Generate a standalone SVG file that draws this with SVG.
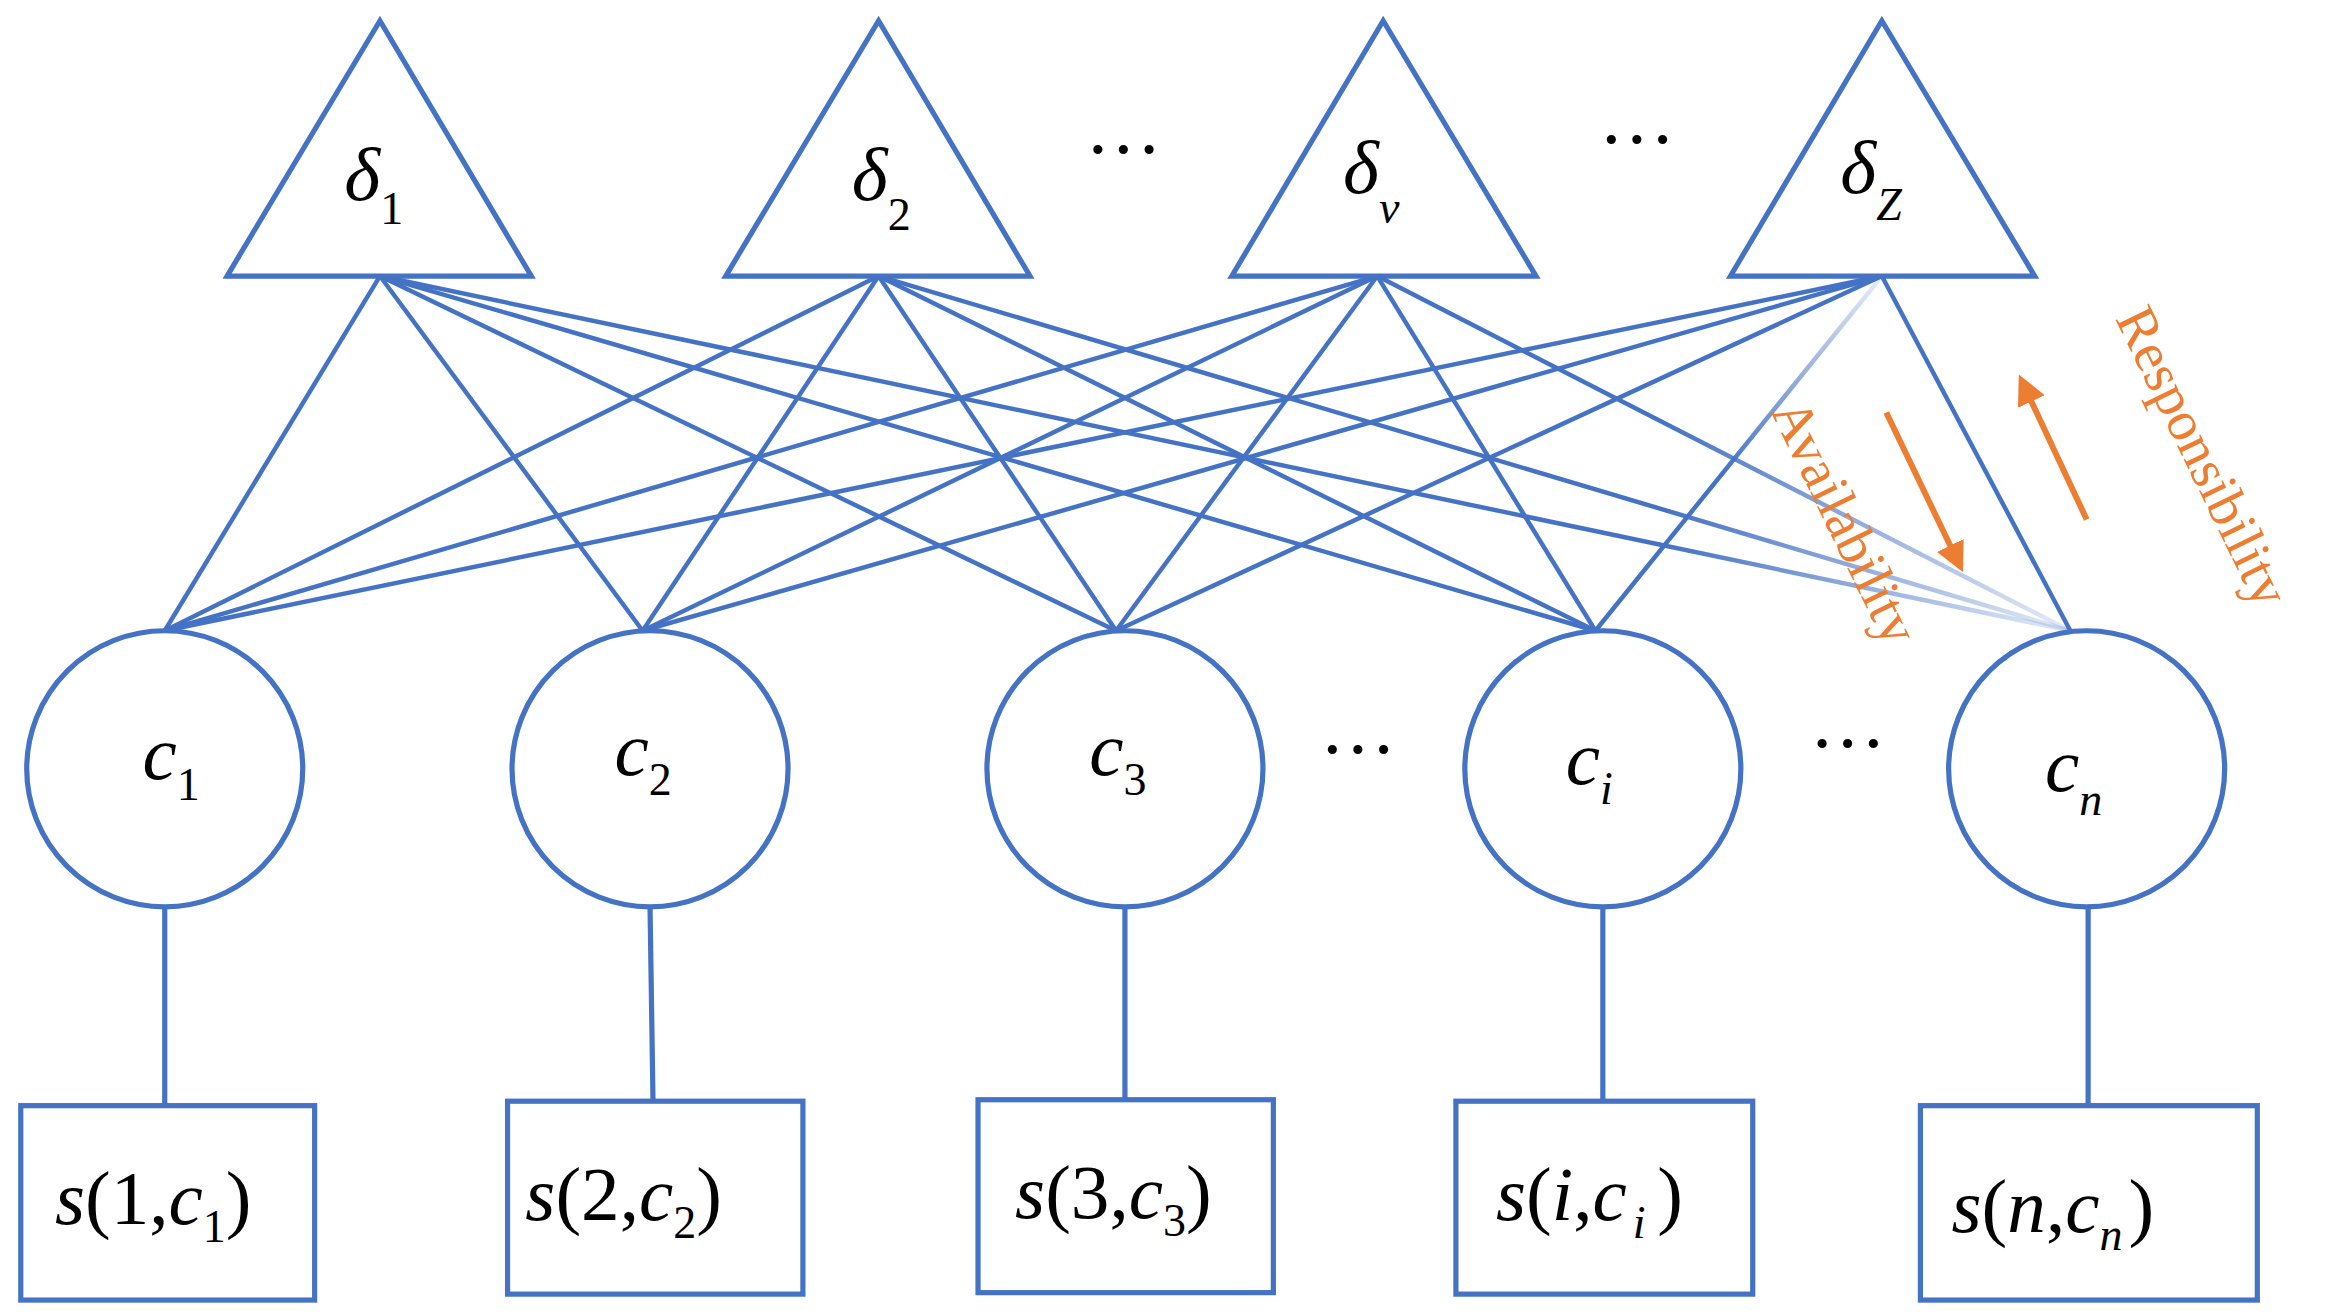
<svg xmlns="http://www.w3.org/2000/svg" width="2327" height="1315" viewBox="0 0 2327 1315">
<style>
.s{fill:none;stroke:#4472C4;stroke-width:3.5}
.l{stroke:#4472C4;stroke-width:3}
.m{font-family:"Liberation Serif","DejaVu Serif",serif;font-style:italic;fill:#000;font-size:52px}
.u{font-style:normal}
.b{font-size:31px}
.o{font-family:"Liberation Serif","DejaVu Serif",serif;fill:#ED7D31;font-size:38px}
.a{stroke:#ED7D31;stroke-width:4;marker-end:url(#ah)}
</style>
<defs>
<marker id="ah" viewBox="0 0 10 10" refX="8" refY="5" markerWidth="5" markerHeight="5" orient="auto"><path d="M0,0 L10,5 L0,10 Z" fill="#ED7D31"/></marker>
<linearGradient id="f1" gradientUnits="userSpaceOnUse" x1="1120" y1="0" x2="1390" y2="0"><stop offset="0" stop-color="#4472C4"/><stop offset="1" stop-color="#4472C4" stop-opacity="0.15"/></linearGradient>
<linearGradient id="f2" gradientUnits="userSpaceOnUse" x1="0" y1="190" x2="0" y2="320"><stop offset="0" stop-color="#4472C4" stop-opacity="0.15"/><stop offset="1" stop-color="#4472C4"/></linearGradient>
</defs>
<rect width="2327" height="1315" fill="#fff"/>
<g transform="scale(1.4841)">
<g id="connectors">
<line class="l" x1="256" y1="186" x2="111" y2="425"/><line class="l" x1="256" y1="186" x2="433" y2="425"/><line class="l" x1="256" y1="186" x2="752" y2="425"/><line class="l" x1="256" y1="186" x2="1075" y2="425"/><line x1="256" y1="186" x2="1395" y2="425" stroke="url(#f1)" stroke-width="3"/>
<line class="l" x1="592" y1="186" x2="111" y2="425"/><line class="l" x1="592" y1="186" x2="433" y2="425"/><line class="l" x1="592" y1="186" x2="752" y2="425"/><line class="l" x1="592" y1="186" x2="1075" y2="425"/><line x1="592" y1="186" x2="1395" y2="425" stroke="url(#f1)" stroke-width="3"/>
<line class="l" x1="928" y1="186" x2="111" y2="425"/><line class="l" x1="928" y1="186" x2="433" y2="425"/><line class="l" x1="928" y1="186" x2="752" y2="425"/><line class="l" x1="928" y1="186" x2="1075" y2="425"/><line x1="928" y1="186" x2="1395" y2="425" stroke="url(#f1)" stroke-width="3"/>
<line class="l" x1="1268" y1="186" x2="111" y2="425"/><line class="l" x1="1268" y1="186" x2="433" y2="425"/><line class="l" x1="1268" y1="186" x2="752" y2="425"/><line x1="1268" y1="186" x2="1075" y2="425" stroke="url(#f2)" stroke-width="3"/><line class="l" x1="1268" y1="186" x2="1395" y2="425"/>
<line class="s" x1="111" y1="611" x2="111" y2="745"/><line class="s" x1="438" y1="611" x2="440" y2="742"/><line class="s" x1="758" y1="611" x2="758" y2="741"/><line class="s" x1="1080" y1="611" x2="1080" y2="742"/><line class="s" x1="1407" y1="611" x2="1407" y2="745"/>
</g>
<g id="d1"><polygon class="s" points="256,14 153,186 358,186"/><text class="m" x="232" y="135">δ<tspan class="u b" dy="16">1</tspan></text></g>
<g id="d2"><polygon class="s" points="592,14 489,186 694,186"/><text class="m" x="574" y="135">δ<tspan class="u b" dy="20">2</tspan></text></g>
<g id="dv"><polygon class="s" points="932,14 830,186 1035,186"/><text class="m" x="905" y="130">δ<tspan class="b" dy="20">ν</tspan></text></g>
<g id="dZ"><polygon class="s" points="1268,14 1166,186 1371,186"/><text class="m" x="1240" y="130">δ<tspan class="b" dy="18">Z</tspan></text></g>
<text class="m u" x="757" y="118" font-size="36" text-anchor="middle">···</text>
<text class="m u" x="1103" y="111" font-size="36" text-anchor="middle">···</text>
<text class="m u" x="915" y="522" font-size="36" text-anchor="middle">···</text>
<text class="m u" x="1245" y="518" font-size="36" text-anchor="middle">···</text>
<g id="c1"><circle class="s" cx="111" cy="518" r="93"/><text class="m" x="96" y="525">c<tspan class="u b" dy="14">1</tspan></text></g>
<g id="c2"><circle class="s" cx="438" cy="518" r="93"/><text class="m" x="414" y="522">c<tspan class="u b" dy="14">2</tspan></text></g>
<g id="c3"><circle class="s" cx="758" cy="518" r="93"/><text class="m" x="734" y="522">c<tspan class="u b" dy="14">3</tspan></text></g>
<g id="ci"><circle class="s" cx="1080" cy="518" r="93"/><text class="m" x="1055" y="528">c<tspan class="b" dy="14">i</tspan></text></g>
<g id="cn"><circle class="s" cx="1406" cy="518" r="93"/><text class="m" x="1378" y="533">c<tspan class="b" dy="16">n</tspan></text></g>
<g id="s1"><rect class="s" x="14" y="745" width="198" height="131"/><text class="m" x="37" y="825">s<tspan class="u">(1,</tspan>c<tspan class="u b" dy="12">1</tspan><tspan class="u" dy="-12">)</tspan></text></g>
<g id="s2"><rect class="s" x="342" y="742" width="199" height="130"/><text class="m" x="354" y="822">s<tspan class="u">(2,</tspan>c<tspan class="u b" dy="12">2</tspan><tspan class="u" dy="-12">)</tspan></text></g>
<g id="s3"><rect class="s" x="659" y="741" width="199" height="130"/><text class="m" x="684" y="821">s<tspan class="u">(3,</tspan>c<tspan class="u b" dy="12">3</tspan><tspan class="u" dy="-12">)</tspan></text></g>
<g id="si"><rect class="s" x="981" y="742" width="200" height="130"/><text class="m" x="1008" y="822">s<tspan class="u">(</tspan>i<tspan class="u">,</tspan>c<tspan class="b" dy="12" dx="4">i</tspan><tspan class="u" dy="-12" dx="8">)</tspan></text></g>
<g id="sn"><rect class="s" x="1294" y="745" width="227" height="131"/><text class="m" x="1315" y="830">s<tspan class="u">(</tspan>n<tspan class="u">,</tspan>c<tspan class="b" dy="12">n</tspan><tspan class="u" dy="-12" dx="4">)</tspan></text></g>
<g id="labels">
<text class="o" transform="translate(1232,357) rotate(64)" text-anchor="middle">Availability</text>
<text class="o" transform="translate(1473,313) rotate(64)" text-anchor="middle">Responsibility</text>
<line class="a" x1="1271" y1="278" x2="1321" y2="382"/>
<line class="a" x1="1406" y1="350" x2="1362" y2="256"/>
</g>
</g>
</svg>
